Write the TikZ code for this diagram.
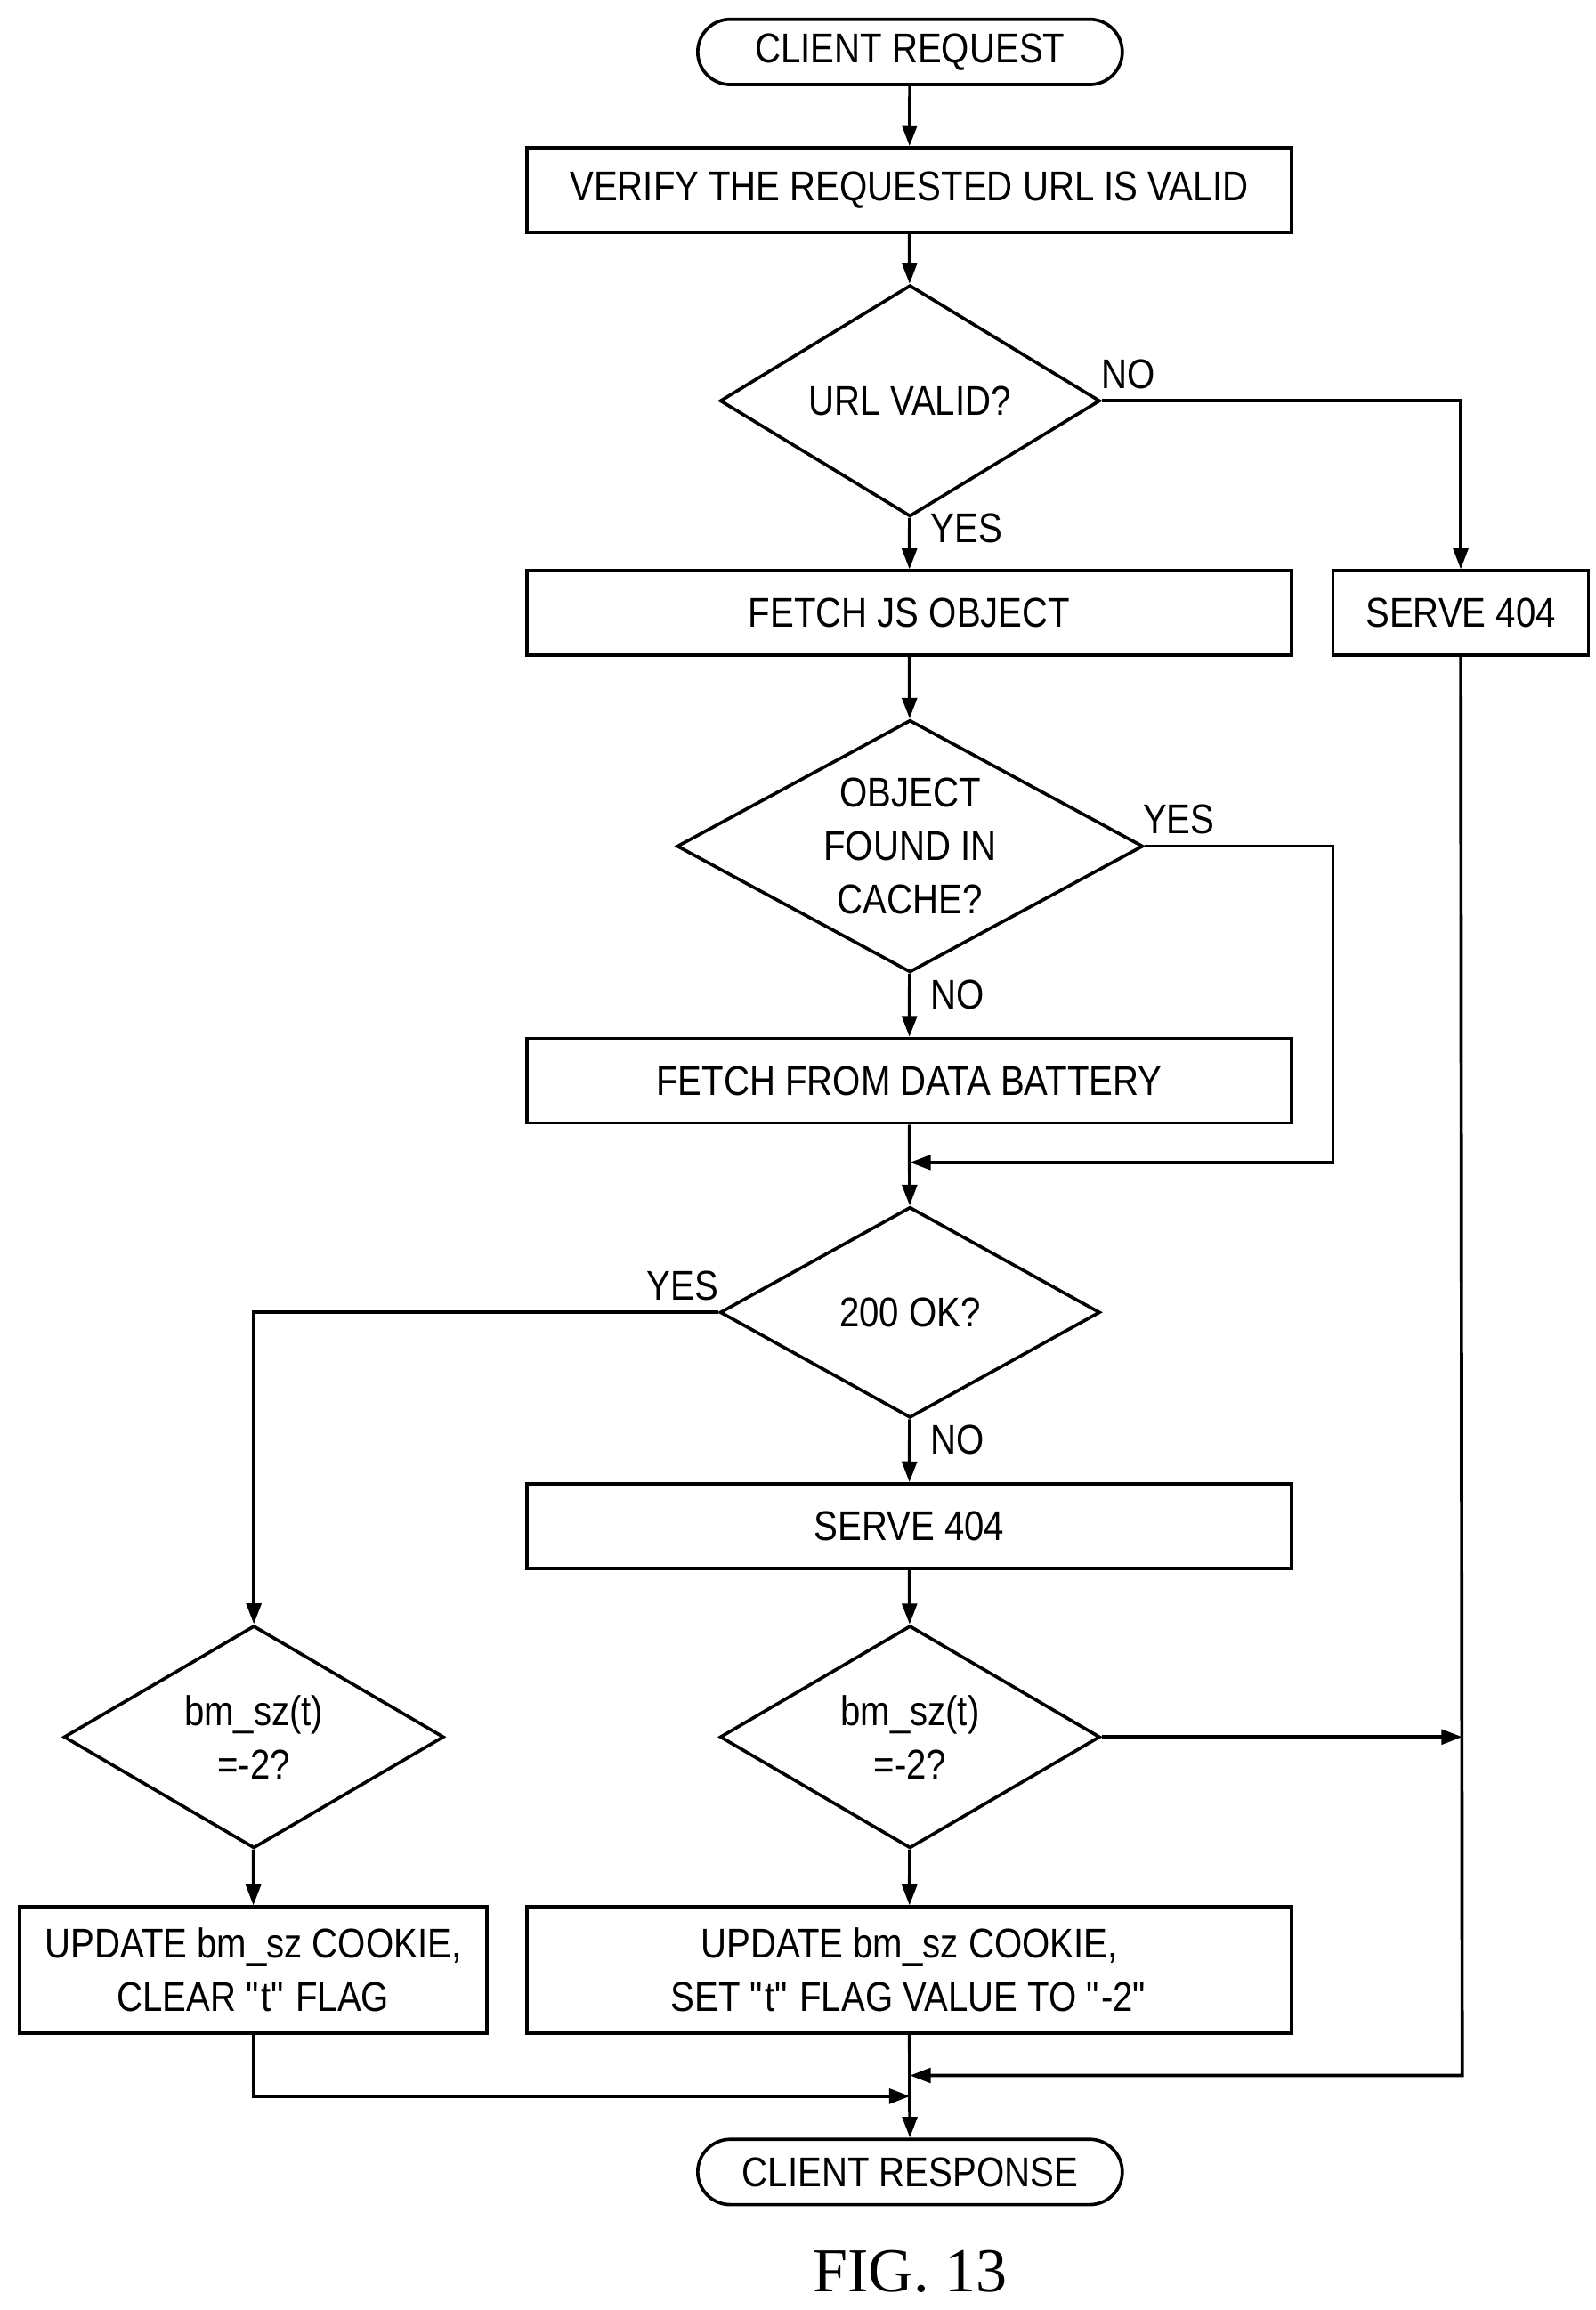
\documentclass[tikz,border=0pt]{standalone}
\usepackage{fontspec}
\setmainfont{Liberation Serif}
\setsansfont{Liberation Sans}[FakeStretch=0.86]
\usetikzlibrary{shapes.geometric,shapes.misc,arrows.meta}

\tikzset{every picture/.style={line width=2.2pt}}
\tikzset{
  box/.style={draw, rectangle, minimum height=57, font=\sffamily\fontsize{28}{36}\selectfont, align=center, inner sep=0},
  term/.style={draw, rounded rectangle, minimum width=286, minimum height=44, font=\sffamily\fontsize{28}{36}\selectfont, inner sep=0},
  dec/.style={draw, diamond, minimum width=256, minimum height=142, font=\sffamily\fontsize{28}{36}\selectfont, align=center, inner sep=0},
  lbl/.style={font=\sffamily\fontsize{28}{36}\selectfont},
  flow/.style={-{Triangle[length=14pt,width=10pt]}}
}

\begin{document}
\begin{tikzpicture}[x=1pt,y=1pt,yscale=-1]
	\useasboundingbox (0,0) rectangle (1075,1556);

	% boxes and decisions
	\node[term] (req) at (613,35) {CLIENT REQUEST};
	\node[box, minimum width=515] (verify) at (612.5,128) {VERIFY THE REQUESTED URL IS VALID};
	\node[dec] (urlok) at (613,270) {URL VALID?};
	\node[box, minimum width=515] (fetchjs) at (612.5,413) {FETCH JS OBJECT};
	\node[box, minimum width=172] (nfa) at (984,413) {SERVE 404};
	\node[dec, minimum width=314, minimum height=170, inner sep=-22pt] (found) at (613,570) {OBJECT\\FOUND IN\\CACHE?};
	\node[box, minimum width=515] (battery) at (612.5,728) {FETCH FROM DATA BATTERY};
	\node[dec] (ok) at (613,884) {200 OK?};
	\node[box, minimum width=515] (nfb) at (612.5,1028) {SERVE 404};
	\node[dec] (bmr) at (613,1170) {bm\_sz(t)\\=-2?};
	\node[dec] (bml) at (171,1170) {bm\_sz(t)\\=-2?};
	\node[box, minimum width=315, minimum height=85] (updl) at (170.5,1327) {UPDATE bm\_sz COOKIE,\\CLEAR \textquotedbl t\textquotedbl\ FLAG};
	\node[box, minimum width=515, minimum height=85] (updr) at (612.5,1327) {UPDATE bm\_sz COOKIE,\\SET \textquotedbl t\textquotedbl\ FLAG VALUE TO \textquotedbl -2\textquotedbl};
	\node[term] (resp) at (613,1463) {CLIENT RESPONSE};
	\node[font=\fontsize{42}{46}\selectfont] (fig) at (613,1530) {FIG. 13};

	% junctions
	\coordinate (c1) at (898,783);
	\coordinate (j1) at (613,783);
	\coordinate (j2) at (985,1170);
	\coordinate (c3) at (985,1398);
	\coordinate (j3) at (613,1398);
	\coordinate (j4) at (613,1412);

	% connectors
	\draw[flow] (req) -- (verify);
	\draw[flow] (verify) -- (urlok);
	\draw[flow] (urlok.east) -| (nfa);
	\draw[flow] (urlok) -- (fetchjs);
	\draw[flow] (fetchjs) -- (found);
	\draw[flow] (found.east) -| (c1) -- (j1);
	\draw[flow] (found) -- (battery);
	\draw[flow] (battery) -- (ok);
	\draw[flow] (ok.west) -| (bml);
	\draw[flow] (ok) -- (nfb);
	\draw[flow] (nfb) -- (bmr);
	\draw[flow] (bmr.east) -- (j2);
	\draw[flow] (nfa) -- (c3) -- (j3);
	\draw[flow] (bml) -- (updl);
	\draw[flow] (bmr) -- (updr);
	\draw[flow] (updl) |- (j4);
	\draw[flow] (updr) -- (resp);

	% labels
	\node[lbl] (no1) at (760,252) {NO};
	\node[lbl] (yes1) at (651,356) {YES};
	\node[lbl] (yes2) at (794,552) {YES};
	\node[lbl] (no2) at (645,670) {NO};
	\node[lbl] (yes3) at (460,866) {YES};
	\node[lbl] (no3) at (645,970) {NO};
\end{tikzpicture}
\end{document}
